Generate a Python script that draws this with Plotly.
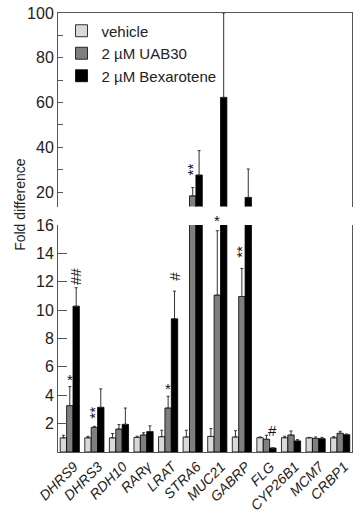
import plotly.graph_objects as go
from plotly.subplots import make_subplots

genes = ["DHRS9", "DHRS3", "RDH10", "RARγ", "LRAT", "STRA6", "MUC21",
         "GABRP", "FLG", "CYP26B1", "MCM7", "CRBP1"]
series_names = ["vehicle", "2 µM UAB30", "2 µM Bexarotene"]
vehicle = [1.0, 1.0, 1.0, 1.03, 1.08, 1.06, 1.1, 1.06, 1.01, 1.01, 1.0, 1.0]
vehicle_err = [0.18, 0.1, 0.3, 0.08, 0.45, 0.47, 0.55, 0.44, 0.05, 0.1, 0.03, 0.08]
uab30 = [3.27, 1.74, 1.62, 1.2, 3.1, 18.3, 11.06, 10.96, 0.9, 1.2, 0.96, 1.32]
uab30_err = [1.34, 0.07, 0.31, 0.16, 0.83, 3.7, 4.54, 1.98, 0.28, 0.28, 0.1, 0.14]
bex = [10.28, 3.15, 1.95, 1.44, 9.39, 27.6, 62.3, 17.6, 0.28, 0.78, 0.94, 1.22]
bex_err = [1.3, 1.3, 1.15, 0.4, 1.95, 10.9, 37.7, 12.7, 0.0, 0.09, 0.09, 0.05]

# significance marks: gene, series index, text, height
sig_gene = ["DHRS9", "DHRS9", "DHRS3", "LRAT", "LRAT", "MUC21", "GABRP", "FLG", "STRA6"]
sig_series = [1, 2, 1, 1, 2, 1, 1, 2, 1]
sig_text = ["*", "##", "**", "*", "#", "*", "**", "#", "**"]
sig_y = [5.1, 12.35, 2.8, 4.47, 12.4, 15.6, 14.1, 1.53, 30.0]

bottom_ticks = [2, 4, 6, 8, 10, 12, 14, 16]
top_ticks = [20, 40, 60, 80, 100]
BOTTOM_RANGE = [0, 16]
TOP_RANGE = [13.5, 100]

colors = ["#d9d9d9", "#7f7f7f", "#000000"]
values = [vehicle, uab30, bex]
errors = [vehicle_err, uab30_err, bex_err]

BARGAP = 0.22
bar_w = (1 - BARGAP) / 3

fig = make_subplots(rows=2, cols=1, shared_xaxes=False, vertical_spacing=0.0)

for s in range(3):
    for row in (1, 2):
        if row == 1:
            err = [e if v > TOP_RANGE[0] else 0 for v, e in zip(values[s], errors[s])]
        else:
            err = errors[s]
        fig.add_trace(go.Bar(
            x=genes, y=values[s], name=series_names[s],
            marker=dict(color=colors[s], line=dict(color="#000", width=0.8)),
            error_y=dict(type="data", array=err, symmetric=False,
                         arrayminus=[0] * len(err), color="#333",
                         thickness=1, width=1.5),
            showlegend=(row == 1),
        ), row=row, col=1)

font_family = "Liberation Sans, Arial, sans-serif"
axis_col = "#555"

fig.update_layout(
    width=360, height=513,
    margin=dict(l=58, r=8, t=13, b=61, autoexpand=False),
    paper_bgcolor="white", plot_bgcolor="white",
    barmode="group", bargap=BARGAP, bargroupgap=0,
    font=dict(family=font_family, size=16, color="#222"),
    legend=dict(x=0.012, y=0.9966, xanchor="left", yanchor="top",
                bgcolor="rgba(0,0,0,0)",
                font=dict(family=font_family, size=15),
                tracegroupgap=0, itemwidth=30, traceorder="normal"),
    # top panel
    xaxis=dict(domain=[0, 1], anchor="y", side="top", showline=True,
               linecolor=axis_col, linewidth=1, showticklabels=False,
               ticks="", showgrid=False, range=[-0.48, 11.48],
               matches="x2", automargin=False),
    yaxis=dict(domain=[0.559, 1], anchor="x", range=TOP_RANGE,
               tickvals=top_ticks, ticks="inside", ticklen=5,
               tickcolor=axis_col, showline=True, mirror=True,
               linecolor=axis_col, linewidth=1, showgrid=False,
               zeroline=False, tickfont=dict(size=16), automargin=False,
               minor=dict(tickvals=[30, 50, 70, 90], ticks="inside",
                          ticklen=5, tickcolor=axis_col)),
    # bottom panel
    xaxis2=dict(domain=[0, 1], anchor="y2", showline=True,
                linecolor=axis_col, linewidth=1, ticks="",
                tickangle=-45, showgrid=False, range=[-0.48, 11.48],
                ticklabelshift=4,
                tickfont=dict(family=font_family, size=14, style="italic"),
                automargin=False),
    yaxis2=dict(domain=[0, 0.517], anchor="x2", range=BOTTOM_RANGE,
                tickvals=bottom_ticks, ticks="inside", ticklen=9,
                tickcolor=axis_col, showline=True, mirror=True,
                linecolor=axis_col, linewidth=1, showgrid=False,
                zeroline=False, tickfont=dict(size=16), automargin=False),
)

annotations = []
for g, s, t, yv in zip(sig_gene, sig_series, sig_text, sig_y):
    xi = genes.index(g) + (s - 1) * bar_w
    top = yv > BOTTOM_RANGE[1] or g == "STRA6"
    rotated = len(t) > 1 or (t == "#" and g != "FLG")
    ann = dict(x=xi, y=yv, xref="x" if top else "x2", yref="y" if top else "y2",
               text=t, showarrow=False, font=dict(size=15, color="#111"),
               textangle=-90 if rotated else 0)
    if g == "MUC21":
        ann.update(yanchor="bottom")
    annotations.append(ann)

annotations.append(dict(x=0, y=0.563, xref="paper", yref="paper", xshift=-48,
                        text="Fold difference", textangle=-90, showarrow=False,
                        font=dict(size=14, color="#222")))
fig.update_layout(annotations=annotations)

fig.write_html("out.html")
